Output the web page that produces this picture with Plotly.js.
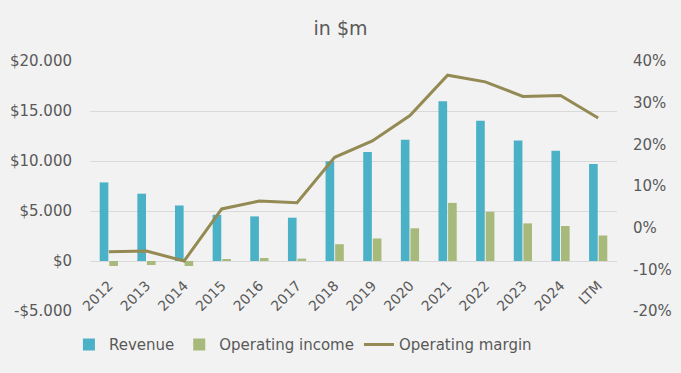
<!DOCTYPE html>
<html>
<head>
<meta charset="utf-8">
<script src="https://cdn.plot.ly/plotly-3.0.1.min.js"></script>
<style>html,body{margin:0;padding:0;background:#f2f2f2;}#chart{width:681px;height:373px;}</style>
</head>
<body>
<div id="chart"></div>
<script>
const categories = ["2012","2013","2014","2015","2016","2017","2018","2019","2020","2021","2022","2023","2024","LTM"];
const revenue = [7860, 6730, 5550, 4620, 4460, 4330, 9970, 10890, 12120, 15980, 14030, 12050, 11030, 9700];
const operatingIncome = [-500, -400, -500, 200, 300, 240, 1680, 2250, 3270, 5810, 4920, 3760, 3500, 2550];
const operatingMargin = [-5.8, -5.6, -8.0, 4.5, 6.4, 6.0, 16.9, 20.8, 26.9, 36.6, 35.0, 31.5, 31.7, 26.3];
const leftTickVals = [-5000, 0, 5000, 10000, 15000, 20000];
const leftTickText = ["-$5.000", "$0", "$5.000", "$10.000", "$15.000", "$20.000"];
const rightTickVals = [-20, -10, 0, 10, 20, 30, 40];
const rightTickText = ["-20%", "-10%", "0%", "10%", "20%", "30%", "40%"];

const txt = "#595959";
const traces = [
  {type: "bar", name: "Revenue", x: categories, y: revenue, marker: {color: "#4bb1c6"}, xaxis: "x", yaxis: "y"},
  {type: "bar", name: "Operating income", x: categories, y: operatingIncome, marker: {color: "#a7b97b"}, xaxis: "x", yaxis: "y"},
  {type: "scatter", mode: "lines", name: "Operating margin", x: categories, y: operatingMargin, line: {color: "#948a54", width: 3}, xaxis: "x", yaxis: "y2"}
];
const layout = {
  width: 681, height: 373,
  paper_bgcolor: "#f2f2f2", plot_bgcolor: "#f2f2f2",
  margin: {l: 90, r: 64, t: 61, b: 60},
  font: {family: "DejaVu Sans", color: txt},
  title: {text: "in $m", x: 0.5, xanchor: "center", y: 0.925, yanchor: "middle", font: {family: "DejaVu Sans", size: 19, color: txt}},
  barmode: "group", bargap: 0.49, bargroupgap: 0.1,
  showlegend: true,
  legend: {orientation: "h", x: -0.04, xanchor: "left", y: -0.135, yanchor: "middle", font: {size: 15, color: txt}, bgcolor: "rgba(0,0,0,0)", itemwidth: 30, traceorder: "normal"},
  xaxis: {type: "category", anchor: "free", position: 0.2, automargin: false, tickangle: -45, tickfont: {size: 14, color: txt}, showgrid: false, zeroline: false, showline: false, ticks: "outside", ticklen: 10, tickcolor: "rgba(0,0,0,0)"},
  yaxis: {range: [-5000, 20000], automargin: false, tickvals: leftTickVals, ticktext: leftTickText, showgrid: true, gridcolor: "#d9d9d9", gridwidth: 1, zeroline: false, tickfont: {size: 15, color: txt}, ticks: "", ticklabelstandoff: 17},
  yaxis2: {range: [-20, 40], automargin: false, tickvals: rightTickVals, ticktext: rightTickText, overlaying: "y", side: "right", showgrid: false, zeroline: false, tickfont: {size: 15, color: txt}, ticks: "", ticklabelstandoff: 15}
};
Plotly.newPlot("chart", traces, layout, {displayModeBar: false, staticPlot: true});
</script>
</body>
</html>
